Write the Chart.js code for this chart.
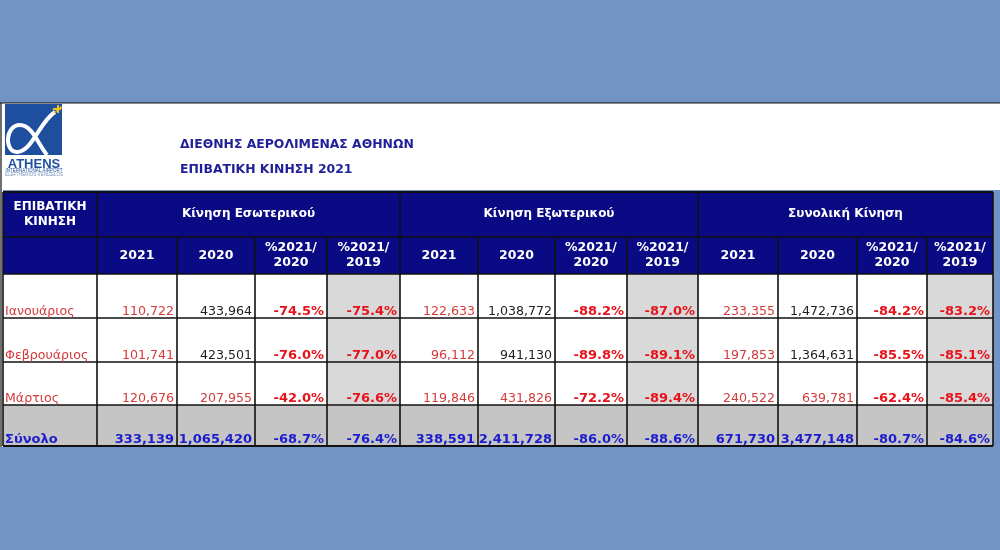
<!DOCTYPE html>
<html>
<head>
<meta charset="utf-8">
<script src="https://cdn.jsdelivr.net/npm/chart.js@4.4.1/dist/chart.umd.min.js"></script>
<style>
  html, body { margin: 0; padding: 0; background: #7194c4; }
  canvas { display: block; }
</style>
</head>
<body>
<canvas id="table" width="1000" height="550"></canvas>
<script>
// values
const months = ['Ιανουάριος', 'Φεβρουάριος', 'Μάρτιος'];
const totalLabel = 'Σύνολο';
const rowHeader = ['ΕΠΙΒΑΤΙΚΗ', 'ΚΙΝΗΣΗ'];
const groups = ['Κίνηση Εσωτερικού', 'Κίνηση Εξωτερικού', 'Συνολική Κίνηση'];
const subHeaders = [['2021'], ['2020'], ['%2021/', '2020'], ['%2021/', '2019']];
const titleLines = ['ΔΙΕΘΝΗΣ ΑΕΡΟΛΙΜΕΝΑΣ ΑΘΗΝΩΝ', 'ΕΠΙΒΑΤΙΚΗ ΚΙΝΗΣΗ 2021'];

const domestic2021 = [110722, 101741, 120676];
const domestic2020 = [433964, 423501, 207955];
const domesticVs2020 = [-74.5, -76.0, -42.0];
const domesticVs2019 = [-75.4, -77.0, -76.6];
const domesticTotal = [333139, 1065420, -68.7, -76.4];

const intl2021 = [122633, 96112, 119846];
const intl2020 = [1038772, 941130, 431826];
const intlVs2020 = [-88.2, -89.8, -72.2];
const intlVs2019 = [-87.0, -89.1, -89.4];
const intlTotal = [338591, 2411728, -86.0, -88.6];

const all2021 = [233355, 197853, 240522];
const all2020 = [1472736, 1364631, 639781];
const allVs2020 = [-84.2, -85.5, -62.4];
const allVs2019 = [-83.2, -85.1, -85.4];
const allTotal = [671730, 3477148, -80.7, -84.6];

// layout (in scale units = pixels of the 1000x550 frame)
const COL_EDGES = [3, 97, 177, 255, 327, 400, 478, 555, 627, 698, 778, 857, 927, 993];
const ROW_EDGES = [192, 237, 274, 318, 362, 405, 446];

const NAVY = '#0a0a84';
const GREY_COL = '#d9d9d9';
const GREY_ROW = '#c5c5c5';
const RED = '#d43a3a';
const RED_BOLD = '#e8121a';
const BLUE = '#1c1ccf';
const FONT = '"DejaVu Sans", Verdana, sans-serif';

const blocks = [
  [domestic2021, domestic2020, domesticVs2020, domesticVs2019, domesticTotal],
  [intl2021, intl2020, intlVs2020, intlVs2019, intlTotal],
  [all2021, all2020, allVs2020, allVs2019, allTotal]
];

const fmtNum = (v) => v.toLocaleString('en-US');
const fmtPct = (v) => v.toFixed(1) + '%';

const tablePlugin = {
  id: 'passengerTable',
  beforeDraw(chart) {
    const ctx = chart.ctx;
    const xs = chart.scales.x;
    const ys = chart.scales.y;
    const px = (v) => xs.getPixelForValue(v);
    const py = (v) => ys.getPixelForValue(v);

    const rect = (x0, y0, x1, y1, fill) => {
      ctx.fillStyle = fill;
      ctx.fillRect(px(x0), py(y0), px(x1) - px(x0), py(y1) - py(y0));
    };
    const line = (x0, y0, x1, y1, w) => {
      ctx.beginPath();
      ctx.moveTo(px(x0), py(y0));
      ctx.lineTo(px(x1), py(y1));
      ctx.lineWidth = w || 1.6;
      ctx.strokeStyle = '#111';
      ctx.stroke();
    };
    const text = (str, x, y, font, color, align, base) => {
      ctx.font = font;
      ctx.fillStyle = color;
      ctx.textAlign = align || 'left';
      ctx.textBaseline = base || 'alphabetic';
      ctx.fillText(str, px(x), py(y));
    };

    ctx.save();
    // page background and white panel
    rect(0, 0, 1000, 550, '#7194c4');
    rect(0, 103, 1000, 190, '#ffffff');
    rect(0, 190, 3, 447, '#ffffff');
    line(0, 103, 1000, 103, 1.2);
    line(1, 103, 1, 447, 1.2);

    // logo
    rect(5, 104, 62, 155, '#1d4f9e');
    ctx.beginPath();
    ctx.moveTo(px(55), py(112));
    ctx.bezierCurveTo(px(40), py(121), px(32), py(152), px(17), py(152));
    ctx.bezierCurveTo(px(4), py(152), px(5), py(125), px(20), py(125));
    ctx.bezierCurveTo(px(32), py(125), px(38), py(144), px(47), py(155));
    ctx.lineWidth = 4;
    ctx.strokeStyle = '#ffffff';
    ctx.stroke();
    ctx.fillStyle = '#f2c318';
    ctx.beginPath();
    ctx.moveTo(px(51), py(115));
    ctx.lineTo(px(61), py(106));
    ctx.lineTo(px(62), py(108));
    ctx.closePath();
    ctx.fill();
    ctx.fillRect(px(53), py(108), 8, 2);
    ctx.fillRect(px(57), py(105), 2, 8);
    text('ATHENS', 34, 168, 'bold 13px "Liberation Sans", Arial, sans-serif', '#1d4f9e', 'center');
    text('INTERNATIONAL AIRPORT', 34, 172, '4.5px "Liberation Sans", sans-serif', '#1d4f9e', 'center');
    text('ELEFTHERIOS VENIZELOS', 34, 176, '4.5px "Liberation Sans", sans-serif', '#7a8fb8', 'center');

    // titles
    text(titleLines[0], 180, 148, 'bold 12.4px ' + FONT, '#1f1f9a');
    text(titleLines[1], 180, 173, 'bold 12.4px ' + FONT, '#1f1f9a');

    // header background
    rect(COL_EDGES[0], ROW_EDGES[0], COL_EDGES[13], ROW_EDGES[2], NAVY);
    // body cells
    for (let r = 0; r < 4; r++) {
      const y0 = ROW_EDGES[r + 2];
      const y1 = ROW_EDGES[r + 3];
      for (let c = 0; c < 13; c++) {
        let fill = '#ffffff';
        if (r === 3) fill = GREY_ROW;
        else if (c > 0 && (c - 1) % 4 === 3) fill = GREY_COL;
        rect(COL_EDGES[c], y0, COL_EDGES[c + 1], y1, fill);
      }
    }

    // grid lines
    for (let r = 1; r < ROW_EDGES.length - 1; r++) {
      line(COL_EDGES[0], ROW_EDGES[r], COL_EDGES[13], ROW_EDGES[r]);
    }
    COL_EDGES.forEach((x, i) => {
      const isGroup = i === 0 || i === 13 || (i - 1) % 4 === 0;
      line(x, isGroup ? ROW_EDGES[0] : ROW_EDGES[1], x, ROW_EDGES[6]);
    });
    line(COL_EDGES[0], ROW_EDGES[0], COL_EDGES[13], ROW_EDGES[0], 2);
    line(COL_EDGES[0], ROW_EDGES[6], COL_EDGES[13], ROW_EDGES[6], 2);

    // header text
    const hMid = (COL_EDGES[0] + COL_EDGES[1]) / 2;
    text(rowHeader[0], hMid, 207, 'bold 12px ' + FONT, '#ffffff', 'center', 'middle');
    text(rowHeader[1], hMid, 222, 'bold 12px ' + FONT, '#ffffff', 'center', 'middle');
    groups.forEach((g, gi) => {
      const x0 = COL_EDGES[1 + gi * 4];
      const x1 = COL_EDGES[5 + gi * 4];
      text(g, (x0 + x1) / 2, 214, 'bold 12px ' + FONT, '#ffffff', 'center', 'middle');
      subHeaders.forEach((lines, si) => {
        const cx = (COL_EDGES[1 + gi * 4 + si] + COL_EDGES[2 + gi * 4 + si]) / 2;
        if (lines.length === 1) {
          text(lines[0], cx, 256, 'bold 12.5px ' + FONT, '#ffffff', 'center', 'middle');
        } else {
          text(lines[0], cx, 248, 'bold 12.5px ' + FONT, '#ffffff', 'center', 'middle');
          text(lines[1], cx, 263, 'bold 12.5px ' + FONT, '#ffffff', 'center', 'middle');
        }
      });
    });

    // body text
    const normal = '12.6px ' + FONT;
    const bold = 'bold 13px ' + FONT;
    months.forEach((m, r) => {
      const base = ROW_EDGES[r + 3] - 3;
      text(m, COL_EDGES[0] + 2, base, normal, RED);
      blocks.forEach((b, gi) => {
        const c = 1 + gi * 4;
        text(fmtNum(b[0][r]), COL_EDGES[c + 1] - 3, base, normal, RED, 'right');
        const col2020 = r === months.length - 1 ? RED : '#1e1e1e';
        text(fmtNum(b[1][r]), COL_EDGES[c + 2] - 3, base, normal, col2020, 'right');
        text(fmtPct(b[2][r]), COL_EDGES[c + 3] - 3, base, bold, RED_BOLD, 'right');
        text(fmtPct(b[3][r]), COL_EDGES[c + 4] - 3, base, bold, RED_BOLD, 'right');
      });
    });
    const tBase = ROW_EDGES[6] - 3;
    text(totalLabel, COL_EDGES[0] + 2, tBase, bold, BLUE);
    blocks.forEach((b, gi) => {
      const c = 1 + gi * 4;
      const t = b[4];
      text(fmtNum(t[0]), COL_EDGES[c + 1] - 3, tBase, bold, BLUE, 'right');
      text(fmtNum(t[1]), COL_EDGES[c + 2] - 3, tBase, bold, BLUE, 'right');
      text(fmtPct(t[2]), COL_EDGES[c + 3] - 3, tBase, bold, BLUE, 'right');
      text(fmtPct(t[3]), COL_EDGES[c + 4] - 3, tBase, bold, BLUE, 'right');
    });
    ctx.restore();
  }
};

new Chart(document.getElementById('table'), {
  type: 'scatter',
  data: { datasets: [{ data: [] }] },
  options: {
    responsive: false,
    animation: false,
    devicePixelRatio: 1,
    layout: { padding: 0 },
    scales: {
      x: { type: 'linear', min: 0, max: 1000, display: false },
      y: { type: 'linear', min: 0, max: 550, reverse: true, display: false }
    },
    plugins: { legend: { display: false }, tooltip: { enabled: false } }
  },
  plugins: [tablePlugin]
});
</script>
</body>
</html>
